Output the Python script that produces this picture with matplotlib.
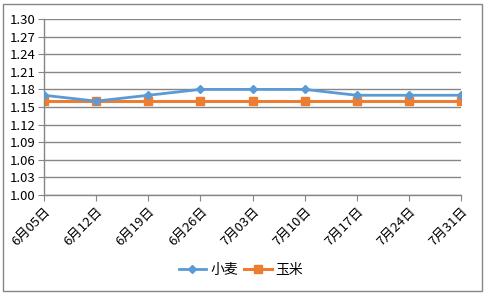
import matplotlib
matplotlib.use("Agg")
import matplotlib.pyplot as plt
import matplotlib.transforms as mtransforms
from matplotlib.patches import Rectangle

plt.rcParams['font.family'] = ['Noto Sans CJK SC', 'DejaVu Sans']

categories = ["6月05日", "6月12日", "6月19日", "6月26日", "7月03日", "7月10日", "7月17日", "7月24日", "7月31日"]
wheat = [1.17, 1.16, 1.17, 1.18, 1.18, 1.18, 1.17, 1.17, 1.17]
corn = [1.16, 1.16, 1.16, 1.16, 1.16, 1.16, 1.16, 1.16, 1.16]
yticks = [1.00, 1.03, 1.06, 1.09, 1.12, 1.15, 1.18, 1.21, 1.24, 1.27, 1.30]

W, H = 487, 296
fig = plt.figure(figsize=(W/100, H/100), dpi=100)
fig.patches.append(Rectangle((3/W, 1-291/H), 479/W, 287/H, transform=fig.transFigure,
                             fill=False, edgecolor='#868686', linewidth=1))
ax = fig.add_axes([44/W, 1-195/H, (461-44)/W, (195-19)/H])
x = list(range(len(categories)))
ax.plot(x, wheat, color='#5B9BD5', linewidth=2, marker='D', markersize=4.5, label='小麦', zorder=3)
ax.plot(x, corn, color='#ED7D31', linewidth=2.2, marker='s', markersize=5.5, label='玉米', zorder=2)
ax.set_xlim(0, len(categories)-1)
ax.set_ylim(1.00, 1.30)
ax.set_yticks(yticks)
ax.set_yticklabels([f"{v:.2f}" for v in yticks], fontsize=9.5)
ax.set_xticks(x)
ax.set_xticklabels(categories, fontsize=9.5, rotation=45, ha='right', va='top', rotation_mode='anchor')
offset = mtransforms.ScaledTranslation(6/100, 0, fig.dpi_scale_trans)
for lab in ax.get_xticklabels():
    lab.set_transform(lab.get_transform() + offset)
ax.tick_params(axis='x', length=4, color='#868686', pad=3)
ax.tick_params(axis='y', length=4, color='#868686', pad=2)
ax.grid(axis='y', color='#868686', linewidth=1)
ax.set_axisbelow(True)
for s in ['top', 'right']:
    ax.spines[s].set_visible(False)
for s in ['left', 'bottom']:
    ax.spines[s].set_color('#868686')
    ax.spines[s].set_linewidth(1)
fig.legend(loc='center', bbox_to_anchor=(241/W, 1-270/H), ncol=2, frameon=False, fontsize=10,
           handlelength=2.0, columnspacing=0.4, handletextpad=0.3)
fig.savefig('out.png', dpi=100)
